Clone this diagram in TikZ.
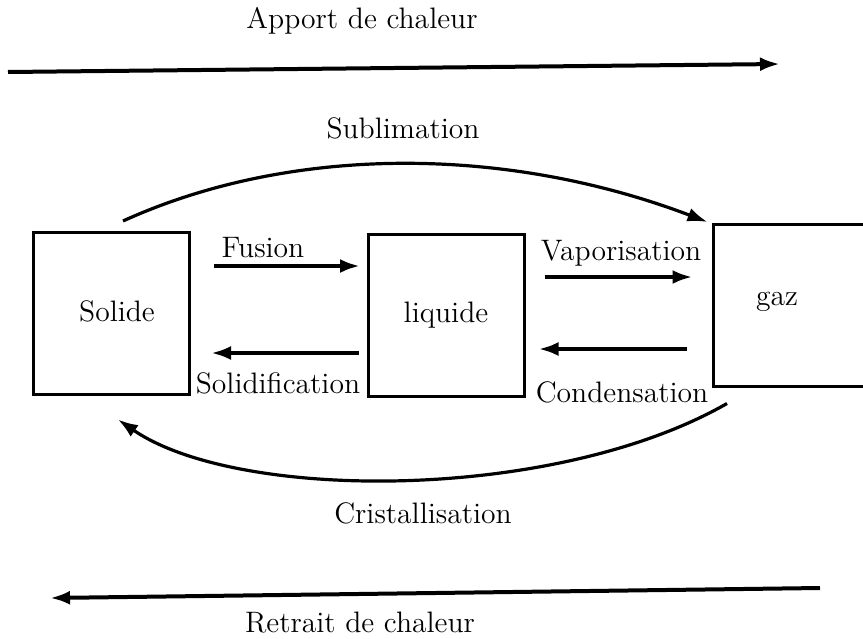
\documentclass[tikz,border=0pt]{standalone}
\usepackage{fontspec}
\usepackage{tikz}
\usetikzlibrary{arrows.meta,positioning,calc}

\begin{document}
\begin{tikzpicture}[
  x=0.5pt, y=-0.5pt,
  every node/.style={font=\fontsize{14.8}{18}\selectfont, inner sep=0pt},
  etat/.style={rectangle, draw, line width=1.5pt, minimum width=78pt, minimum height=81pt},
  arr/.style={-{Latex[length=10pt, width=7pt]}, line width=2pt},
  courbe/.style={-{Latex[length=10pt, width=7pt]}, line width=1.6pt}
]
\useasboundingbox (0,0) rectangle (863,638);

% States
\node[etat] (solide) at (111.5, 313.5) {};
\node (solidelbl) at (117, 311) {Solide};
\node[etat] (liquide) at (446, 315.5) {liquide};
\node[etat] (gaz) at (791, 305.5) {};
\node (gazlbl) at (777, 302) {gaz};

% Transition labels
\node (fusion) at (263, 248) {Fusion};
\node (solidif) at (278, 383) {Solidification};
\node (vapor) at (621, 253) {Vaporisation};
\node (condens) at (622, 392) {Condensation};
\node (sublim) at (403, 128) {Sublimation};
\node (cristal) at (423, 513) {Cristallisation};

% Straight transitions
\draw[arr, shorten <=11.5pt, shorten >=3.25pt] ([yshift=23.75pt]solide.east) -- ([yshift=23.75pt]solide.east -| liquide.west);
\draw[arr, shorten <=4pt, shorten >=10pt] ([yshift=-18.75pt]liquide.west) -- ([yshift=-18.75pt]liquide.west -| solide.east);
\draw[arr, shorten <=9.5pt, shorten >=9.5pt] ([yshift=19.25pt]liquide.east) -- ([yshift=19.25pt]liquide.east -| gaz.west);
\draw[arr, shorten <=12.5pt, shorten >=6.5pt] ([yshift=-21.75pt]gaz.west) -- ([yshift=-21.75pt]gaz.west -| liquide.east);

% Curved transitions
\draw[courbe] ([xshift=5.75pt, yshift=5pt]solide.north) .. controls (290,145) and (505,145) .. ([xshift=-2pt, yshift=0.5pt]gaz.north west);
\draw[courbe] ([xshift=7.75pt, yshift=-7.75pt]gaz.south west) .. controls (555,502) and (238,502) .. ([xshift=3.25pt, yshift=-11.75pt]solide.south);

% Heat exchange
\coordinate (apport-a) at (8, 72);
\coordinate (apport-b) at (780, 64);
\coordinate (retrait-a) at (820, 588);
\coordinate (retrait-b) at (50, 598);
\draw[arr] (apport-a) -- (apport-b);
\draw[arr] (retrait-a) -- (retrait-b);
\node (apport) at (362, 21) {Apport de chaleur};
\node (retrait) at (360, 623) {Retrait de chaleur};

\end{tikzpicture}
\end{document}
